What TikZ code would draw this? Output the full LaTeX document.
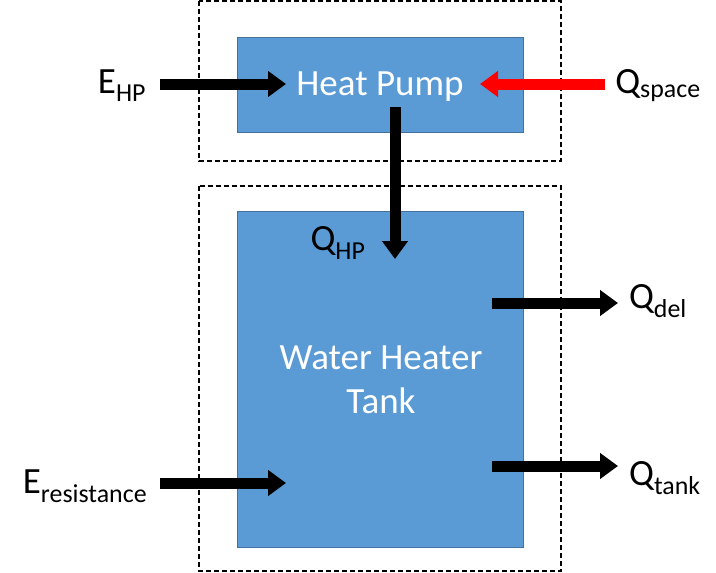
\documentclass[tikz,border=0pt]{standalone}
\usepackage{fontspec}
\setmainfont{Carlito}
\usetikzlibrary{arrows.meta}
\definecolor{boxfill}{HTML}{5B9BD5}
\definecolor{boxline}{HTML}{41719C}
\begin{document}
\begin{tikzpicture}[x=1pt,y=-1pt,
  blk/.style={fill=boxfill,draw=boxline,line width=1pt},
  dsh/.style={draw=black,dash pattern=on 5pt off 3pt,line width=1.3pt},
  flow/.style={line width=11pt,-{Triangle[length=18pt,width=25pt]}},
  lbl/.style={font=\fontsize{37}{40}\selectfont},
  inlbl/.style={font=\fontsize{37}{44}\selectfont,text=white,align=center}]
\useasboundingbox (0,0) rectangle (716,573);
\draw[dsh] (199,1) rectangle (561,161);
\draw[dsh] (199,186) rectangle (561,571);
\draw[blk] (237,37) rectangle (523,132);
\draw[blk] (237,211) rectangle (523,547);
\node[inlbl] (hp) at (380,87) {Heat Pump};
\node[inlbl] (wh) at (381,380) {Water Heater\\Tank};
\node[lbl] (ehp) at (122,86) {E\textsubscript{HP}};
\node[lbl] (qsp) at (658,86) {Q\textsubscript{space}};
\node[lbl] (qhp) at (338,243) {Q\textsubscript{HP}};
\node[lbl] (qdel) at (658,301) {Q\textsubscript{del}};
\node[lbl] (qtank) at (665,478) {Q\textsubscript{tank}};
\node[lbl] (eres) at (85,486) {E\textsubscript{resistance}};
\coordinate (a1) at (160,84); \coordinate (a2) at (286,84);
\coordinate (b1) at (605,84); \coordinate (b2) at (480,84);
\coordinate (c1) at (395,107); \coordinate (c2) at (395,259);
\coordinate (d1) at (492,303); \coordinate (d2) at (618,303);
\coordinate (e1) at (492,466); \coordinate (e2) at (618,466);
\coordinate (f1) at (160,483); \coordinate (f2) at (286,483);
\draw[flow] (a1) -- (a2);
\draw[flow,red] (b1) -- (b2);
\draw[flow] (c1) -- (c2);
\draw[flow] (d1) -- (d2);
\draw[flow] (e1) -- (e2);
\draw[flow] (f1) -- (f2);
\end{tikzpicture}
\end{document}
